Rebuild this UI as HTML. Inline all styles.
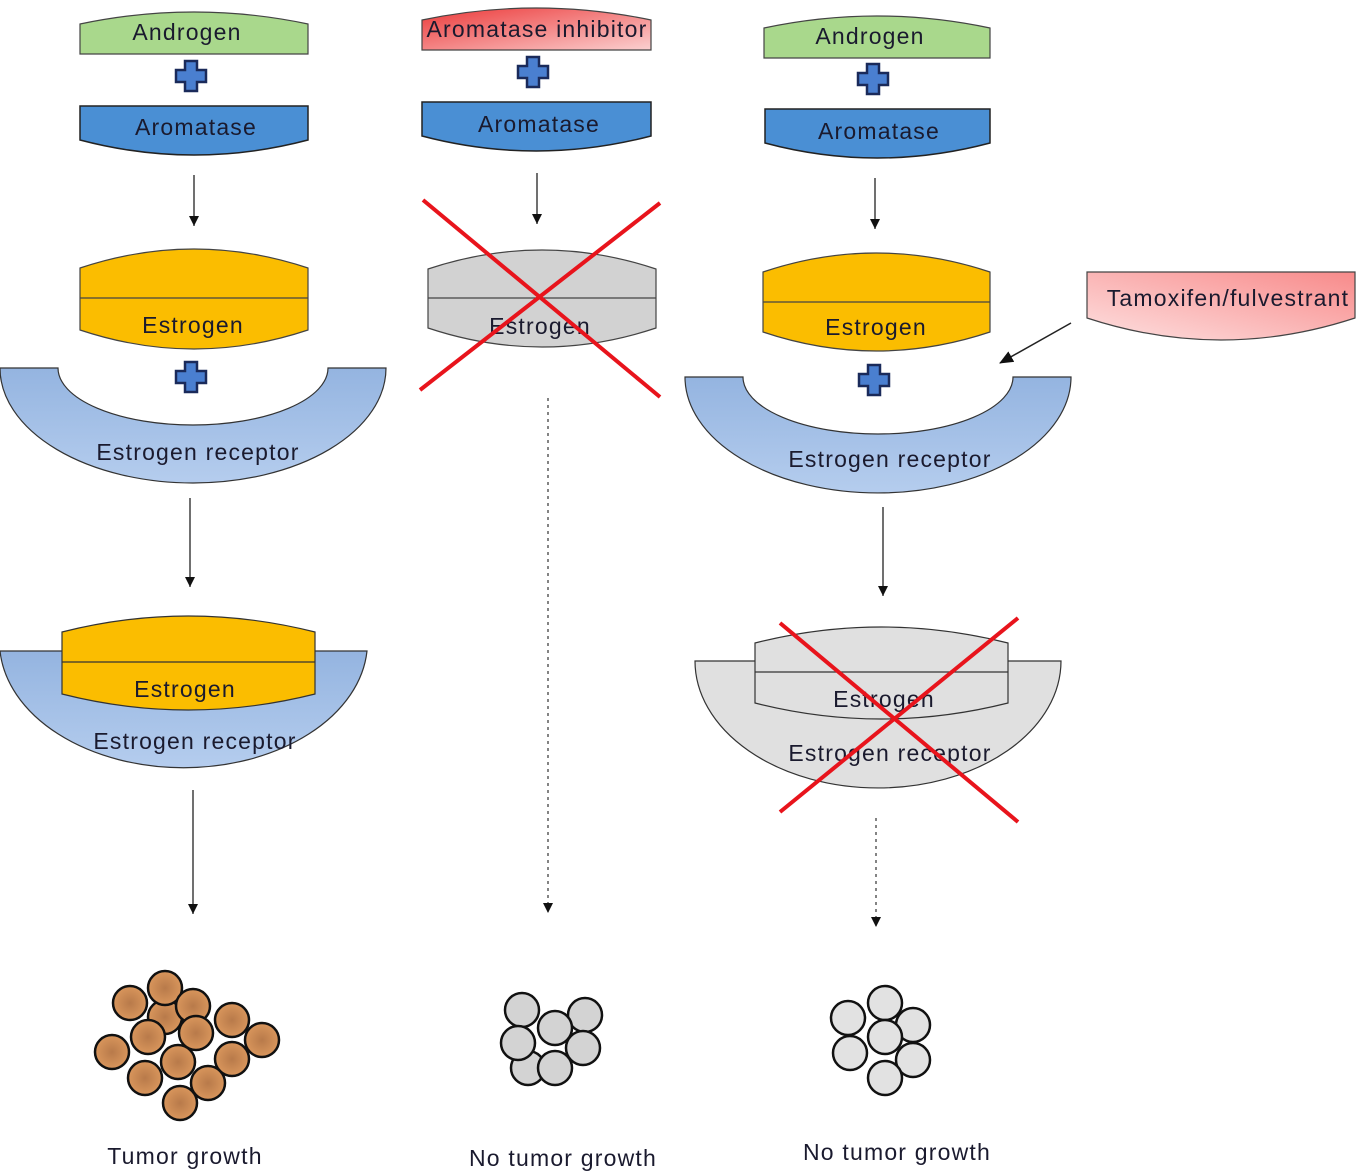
<!DOCTYPE html>
<html><head><meta charset="utf-8"><style>
html,body{margin:0;padding:0;background:#fff;}
svg{display:block;}
text{font-family:"Liberation Sans",sans-serif;font-size:23px;letter-spacing:1.2px;fill:#1a1a2e;text-anchor:middle;}
</style></head><body>
<svg width="1356" height="1172" viewBox="0 0 1356 1172" xmlns="http://www.w3.org/2000/svg">
<defs>
<marker id="ah" markerWidth="10" markerHeight="10" refX="10" refY="5" orient="auto" markerUnits="userSpaceOnUse" viewBox="0 0 10 10"><path d="M0,0 L10,5 L0,10 Z" fill="#111"/></marker>
<marker id="ah2" markerWidth="14" markerHeight="12" refX="13" refY="6" orient="auto" markerUnits="userSpaceOnUse" viewBox="0 0 14 12"><path d="M0,0 L14,6 L0,12 Z" fill="#111"/></marker>
<linearGradient id="rec" x1="0" y1="0" x2="0" y2="1"><stop offset="0" stop-color="#94b4e0"/><stop offset="1" stop-color="#b5cdee"/></linearGradient>
<linearGradient id="ai" x1="0" y1="0" x2="1" y2="1"><stop offset="0" stop-color="#ec3a3a"/><stop offset="1" stop-color="#fbd0d0"/></linearGradient>
<linearGradient id="tam" x1="0" y1="1" x2="1" y2="0"><stop offset="0" stop-color="#fde0e0"/><stop offset="1" stop-color="#f88a8a"/></linearGradient>
<radialGradient id="cell"><stop offset="0" stop-color="#b87a4a"/><stop offset="1" stop-color="#d9965c"/></radialGradient>
<g id="plus"><path d="M-6,-15 H6 V-6 H15 V6 H6 V15 H-6 V6 H-15 V-6 H-6 Z" fill="#4a7fd0" stroke="#1a2a5a" stroke-width="2.5"/></g>
</defs>

<!-- Column 1 -->
<path d="M80,54 L80,24 Q194,0 308,24 L308,54 Z" fill="#a9d88c" stroke="#444" stroke-width="1.2"/>
<text x="187" y="40">Androgen</text>
<use href="#plus" x="191" y="76"/>
<path d="M80,106 L308,106 L308,140 Q194,170 80,140 Z" fill="#4a8fd4" stroke="#222" stroke-width="1.5"/>
<text x="196" y="135">Aromatase</text>
<line x1="194" y1="175" x2="194" y2="226" stroke="#222" stroke-width="1.3" marker-end="url(#ah)"/>
<path d="M80,268 Q194,230 308,268 L308,330 Q194,368 80,330 Z" fill="#fbbd00" stroke="#444" stroke-width="1.2"/>
<line x1="80" y1="298" x2="308" y2="298" stroke="#444" stroke-width="1.2"/>
<text x="193" y="333">Estrogen</text>
<use href="#plus" x="191" y="377"/>
<path d="M0,368 L58,368 A135,57 0 0 0 328,368 L386,368 A193,115 0 0 1 0,368 Z" fill="url(#rec)" stroke="#333" stroke-width="1.2"/>
<text x="198" y="460">Estrogen receptor</text>
<line x1="190" y1="498" x2="190" y2="587" stroke="#222" stroke-width="1.3" marker-end="url(#ah)"/>
<path d="M0,651 L367,651 A184,126 0 0 1 0,651 Z" fill="url(#rec)" stroke="#333" stroke-width="1.2"/>
<path d="M62,632 Q188,600 315,632 L315,694 Q188,726 62,694 Z" fill="#fbbd00" stroke="#333" stroke-width="1.2"/>
<line x1="62" y1="662" x2="315" y2="662" stroke="#333" stroke-width="1.2"/>
<text x="185" y="697">Estrogen</text>
<text x="195" y="749">Estrogen receptor</text>
<line x1="193" y1="790" x2="193" y2="914" stroke="#222" stroke-width="1.3" marker-end="url(#ah)"/>
<g fill="url(#cell)" stroke="#111" stroke-width="2.5">
<circle cx="165" cy="1017" r="17"/>
<circle cx="130" cy="1003" r="17"/><circle cx="165" cy="988" r="17"/><circle cx="193" cy="1006" r="17"/>
<circle cx="232" cy="1020" r="17"/><circle cx="262" cy="1040" r="17"/><circle cx="112" cy="1052" r="17"/>
<circle cx="148" cy="1037" r="17"/><circle cx="196" cy="1033" r="17"/><circle cx="232" cy="1059" r="17"/>
<circle cx="145" cy="1078" r="17"/><circle cx="178" cy="1062" r="17"/><circle cx="208" cy="1083" r="17"/>
<circle cx="180" cy="1103" r="17"/>
</g>
<text x="185" y="1164">Tumor growth</text>

<!-- Column 2 -->
<path d="M422,50 L422,20 Q536,-4 651,20 L651,50 Z" fill="url(#ai)" stroke="#444" stroke-width="1.2"/>
<text x="537" y="37">Aromatase inhibitor</text>
<use href="#plus" x="533" y="72"/>
<path d="M422,102 L651,102 L651,136 Q536,166 422,136 Z" fill="#4a8fd4" stroke="#222" stroke-width="1.5"/>
<text x="539" y="132">Aromatase</text>
<line x1="537" y1="173" x2="537" y2="224" stroke="#222" stroke-width="1.3" marker-end="url(#ah)"/>
<path d="M428,269 Q542,231 656,269 L656,328 Q542,366 428,328 Z" fill="#d2d2d2" stroke="#444" stroke-width="1.2"/>
<line x1="428" y1="298" x2="656" y2="298" stroke="#444" stroke-width="1.2"/>
<text x="540" y="334">Estrogen</text>
<line x1="423" y1="200" x2="660" y2="397" stroke="#e8141c" stroke-width="4"/>
<line x1="420" y1="390" x2="660" y2="203" stroke="#e8141c" stroke-width="4"/>
<line x1="548" y1="398" x2="548" y2="913" stroke="#333" stroke-width="1.2" stroke-dasharray="3,4" marker-end="url(#ah)"/>
<g fill="#d3d3d3" stroke="#111" stroke-width="2.5">
<circle cx="528" cy="1068" r="17"/><circle cx="522" cy="1010" r="17"/><circle cx="585" cy="1015" r="17"/>
<circle cx="555" cy="1028" r="17"/><circle cx="518" cy="1043" r="17"/><circle cx="583" cy="1048" r="17"/>
<circle cx="555" cy="1068" r="17"/>
</g>
<text x="563" y="1166">No tumor growth</text>

<!-- Column 3 -->
<path d="M764,58 L764,28 Q877,4 990,28 L990,58 Z" fill="#a9d88c" stroke="#444" stroke-width="1.2"/>
<text x="870" y="44">Androgen</text>
<use href="#plus" x="873" y="79"/>
<path d="M765,109 L990,109 L990,143 Q877,173 765,143 Z" fill="#4a8fd4" stroke="#222" stroke-width="1.5"/>
<text x="879" y="139">Aromatase</text>
<line x1="875" y1="178" x2="875" y2="229" stroke="#222" stroke-width="1.3" marker-end="url(#ah)"/>
<path d="M763,272 Q876,234 990,272 L990,332 Q876,370 763,332 Z" fill="#fbbd00" stroke="#444" stroke-width="1.2"/>
<line x1="763" y1="302" x2="990" y2="302" stroke="#444" stroke-width="1.2"/>
<text x="876" y="335">Estrogen</text>
<use href="#plus" x="874" y="380"/>
<path d="M685,377 L743,377 A135,57 0 0 0 1013,377 L1071,377 A193,116 0 0 1 685,377 Z" fill="url(#rec)" stroke="#333" stroke-width="1.2"/>
<text x="890" y="467">Estrogen receptor</text>
<path d="M1087,272 L1355,272 L1355,318 Q1221,362 1087,318 Z" fill="url(#tam)" stroke="#444" stroke-width="1.2"/>
<text x="1228" y="306">Tamoxifen/fulvestrant</text>
<line x1="1071" y1="323" x2="1000" y2="363" stroke="#222" stroke-width="1.5" marker-end="url(#ah2)"/>
<line x1="883" y1="507" x2="883" y2="596" stroke="#222" stroke-width="1.3" marker-end="url(#ah)"/>
<path d="M695,661 L1061,661 A183,127 0 0 1 695,661 Z" fill="#e0e0e0" stroke="#333" stroke-width="1.2"/>
<path d="M755,643 Q881,611 1008,643 L1008,703 Q881,735 755,703 Z" fill="#e0e0e0" stroke="#333" stroke-width="1.2"/>
<line x1="755" y1="672" x2="1008" y2="672" stroke="#333" stroke-width="1.2"/>
<text x="884" y="707">Estrogen</text>
<text x="890" y="761">Estrogen receptor</text>
<line x1="780" y1="623" x2="1018" y2="822" stroke="#e8141c" stroke-width="4"/>
<line x1="780" y1="812" x2="1018" y2="618" stroke="#e8141c" stroke-width="4"/>
<line x1="876" y1="818" x2="876" y2="927" stroke="#333" stroke-width="1.2" stroke-dasharray="3,4" marker-end="url(#ah)"/>
<g fill="#e2e2e2" stroke="#111" stroke-width="2.5">
<circle cx="885" cy="1003" r="17"/><circle cx="848" cy="1018" r="17"/><circle cx="913" cy="1025" r="17"/>
<circle cx="850" cy="1053" r="17"/><circle cx="913" cy="1060" r="17"/><circle cx="885" cy="1078" r="17"/>
<circle cx="885" cy="1037" r="17"/>
</g>
<text x="897" y="1160">No tumor growth</text>
</svg>
</body></html>
